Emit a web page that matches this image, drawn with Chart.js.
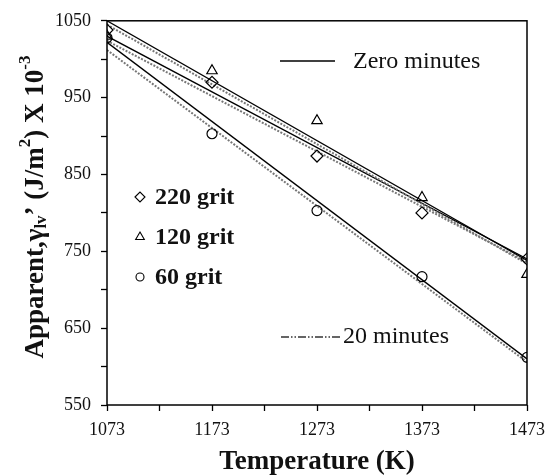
<!DOCTYPE html>
<html>
<head>
<meta charset="utf-8">
<script src="https://cdn.jsdelivr.net/npm/chart.js@4/dist/chart.umd.min.js"></script>
<style>
  html, body { margin: 0; padding: 0; background: #fff; }
  #wrap { width: 558px; height: 475px; }
</style>
</head>
<body>
<div id="wrap"><canvas id="chart" width="558" height="475"></canvas></div>
<script>
// Measured points
const temps = [1073, 1173, 1273, 1373, 1473];
const grit220 = [1038, 970, 874, 800, 740];
const grit120 = [1030, 985, 920, 820, 720];
const grit60 = [1028, 903, 803, 717, 612];

// Straight-line fits, end points only
const fitTemps = [1073, 1473];
const fit220Zero = [1030, 740];
const fit220Twenty = [1024, 736];
const fit120Zero = [1050, 738];
const fit120Twenty = [1045, 734];
const fit60Zero = [1022, 610];
const fit60Twenty = [1012, 606];

// Axis ticks
const xTicks = [1073, 1123, 1173, 1223, 1273, 1323, 1373, 1423, 1473];
const xLabels = [1073, 1173, 1273, 1373, 1473];
const yTicks = [550, 600, 650, 700, 750, 800, 850, 900, 950, 1000, 1050];
const yLabels = [550, 650, 750, 850, 950, 1050];

const SERIF = '"Liberation Serif", "Times New Roman", serif';

function pts(xs, ys) {
    return xs.map((x, i) => ({ x, y: ys[i] }));
}

function fitLine(ys, dotted) {
    return {
        type: 'line',
        data: pts(fitTemps, ys),
        borderColor: dotted ? '#777' : '#000',
        borderWidth: dotted ? 2 : 1.3,
        borderDash: dotted ? [2, 1.5] : [],
        pointRadius: 0,
        fill: false,
        order: 2
    };
}

function markers(ys, style, r) {
    return {
        type: 'scatter',
        data: pts(temps, ys),
        pointStyle: style,
        pointRadius: r,
        pointBackgroundColor: 'rgba(255,255,255,0)',
        pointBorderColor: '#000',
        pointBorderWidth: 1.2,
        showLine: false,
        order: 1
    };
}

// Frame around the plot area
const frame = {
    id: 'frame',
    afterDatasetsDraw(chart) {
        const { ctx, chartArea: a } = chart;
        ctx.save();
        ctx.strokeStyle = '#000';
        ctx.lineWidth = 1.5;
        ctx.strokeRect(a.left, a.top, a.right - a.left, a.bottom - a.top);
        ctx.restore();
    }
};

// Y title with subscript / superscripts
const yTitle = {
    id: 'yTitle',
    afterDraw(chart) {
        const ctx = chart.ctx;
        const big = 'bold 27px ' + SERIF;
        const small = 'bold 17px ' + SERIF;
        const parts = [
            ['Apparent,\u03b3', big, 0],
            ['lv', small, 6],
            ['\u2019 (J/m', big, 0],
            ['2', small, -10],
            [') X 10', big, 0],
            ['-3', small, -10]
        ];
        ctx.save();
        ctx.fillStyle = '#111';
        ctx.textBaseline = 'middle';
        let total = 0;
        parts.forEach(p => { ctx.font = p[1]; total += ctx.measureText(p[0]).width; });
        ctx.translate(36, 207);
        ctx.rotate(-Math.PI / 2);
        let x = -total / 2;
        parts.forEach(p => {
            ctx.font = p[1];
            ctx.fillText(p[0], x, p[2]);
            x += ctx.measureText(p[0]).width;
        });
        ctx.restore();
    }
};

// Legend notes inside the plot
const notes = {
    id: 'notes',
    afterDraw(chart) {
        const ctx = chart.ctx;
        ctx.save();
        ctx.fillStyle = '#111';
        ctx.strokeStyle = '#000';
        ctx.textBaseline = 'middle';

        // line style key
        ctx.lineWidth = 1.3;
        ctx.beginPath();
        ctx.moveTo(280, 61);
        ctx.lineTo(335, 61);
        ctx.stroke();
        ctx.font = '24px ' + SERIF;
        ctx.fillText('Zero minutes', 353, 62);

        ctx.strokeStyle = '#333';
        ctx.setLineDash([8, 2, 1.5, 2, 1.5, 2]);
        ctx.beginPath();
        ctx.moveTo(281, 337);
        ctx.lineTo(340, 337);
        ctx.stroke();
        ctx.setLineDash([]);
        ctx.fillText('20 minutes', 343, 337);

        // marker key
        const keys = [
            ['rectRot', 5, '220 grit', 197],
            ['triangle', 5, '120 grit', 237],
            ['circle', 4, '60 grit', 277]
        ];
        ctx.font = 'bold 24px ' + SERIF;
        ctx.strokeStyle = '#000';
        ctx.lineWidth = 1.1;
        keys.forEach(k => {
            ctx.fillStyle = '#fff';
            Chart.helpers.drawPoint(ctx, { pointStyle: k[0], radius: k[1], borderWidth: 1.1 }, 140, k[3]);
            ctx.fillStyle = '#111';
            ctx.fillText(k[2], 155, k[3] + 1);
        });
        ctx.restore();
    }
};

new Chart(document.getElementById('chart'), {
    type: 'scatter',
    data: {
        datasets: [
            fitLine(fit120Zero, false),
            fitLine(fit120Twenty, true),
            fitLine(fit220Zero, false),
            fitLine(fit220Twenty, true),
            fitLine(fit60Zero, false),
            fitLine(fit60Twenty, true),
            markers(grit220, 'rectRot', 6),
            markers(grit120, 'triangle', 6),
            markers(grit60, 'circle', 5)
        ]
    },
    plugins: [frame, yTitle, notes],
    options: {
        responsive: false,
        animation: false,
        layout: { padding: { top: 16, right: 31, left: 0, bottom: 0 } },
        plugins: {
            legend: { display: false },
            tooltip: { enabled: false }
        },
        scales: {
            x: {
                type: 'linear',
                min: 1073,
                max: 1473,
                afterBuildTicks: s => { s.ticks = xTicks.map(v => ({ value: v })); },
                afterFit: s => { s.height = 70; },
                border: { display: false },
                grid: { drawOnChartArea: false, tickLength: 6, tickColor: '#000', tickWidth: 1.3 },
                ticks: {
                    padding: 8,
                    color: '#111',
                    font: { family: SERIF, size: 18 },
                    maxRotation: 0,
                    autoSkip: false,
                    callback: v => xLabels.includes(v) ? String(v) : ''
                },
                title: {
                    display: true,
                    text: 'Temperature (K)',
                    color: '#111',
                    font: { family: SERIF, size: 27, weight: 'bold' },
                    padding: { top: 0, bottom: -3 }
                }
            },
            y: {
                min: 550,
                max: 1050,
                afterBuildTicks: s => { s.ticks = yTicks.map(v => ({ value: v })); },
                afterFit: s => { s.width = 107; },
                border: { display: false },
                grid: { drawOnChartArea: false, tickLength: 6, tickColor: '#000', tickWidth: 1.3 },
                ticks: {
                    padding: 10,
                    color: '#111',
                    font: { family: SERIF, size: 18 },
                    autoSkip: false,
                    callback: v => yLabels.includes(v) ? String(v) : ''
                }
            }
        }
    }
});
</script>
</body>
</html>
